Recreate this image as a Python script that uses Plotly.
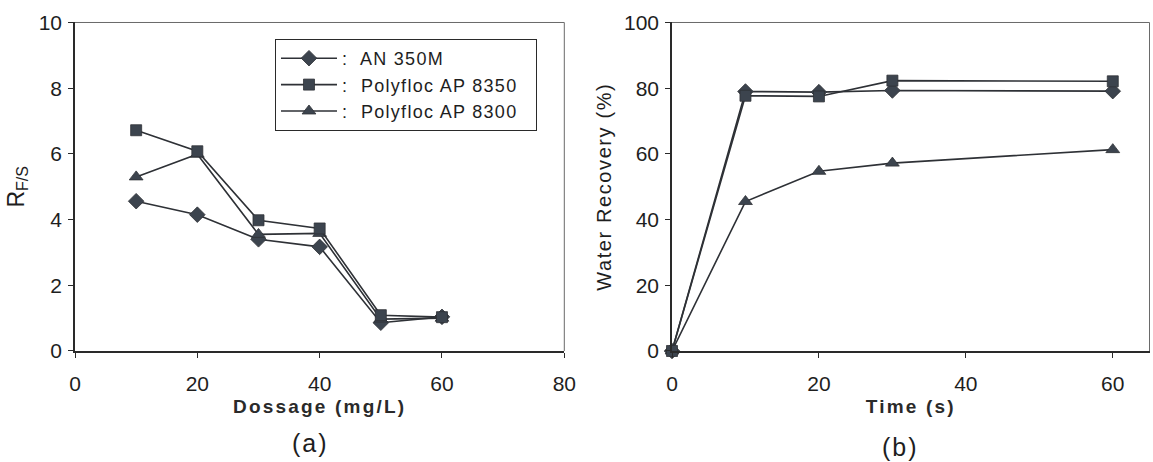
import plotly.graph_objects as go

# Panel (a): R_F/S against flocculant dosage
dosage = [10, 20, 30, 40, 50, 60]
rfs_an350m = [4.56, 4.15, 3.40, 3.17, 0.86, 1.04]
rfs_ap8350 = [6.72, 6.08, 3.98, 3.73, 1.09, 1.03]
rfs_ap8300 = [5.30, 5.99, 3.55, 3.58, 0.97, 1.00]

# Panel (b): water recovery against time
time_s = [0, 10, 20, 30, 60]
wr_an350m = [0, 79.0, 78.8, 79.3, 79.1]
wr_ap8350 = [0, 77.7, 77.5, 82.3, 82.1]
wr_ap8300 = [0, 45.5, 54.7, 57.2, 61.3]

series_names = ["AN 350M", "Polyfloc AP 8350", "Polyfloc AP 8300"]

LINE = "#2e3136"
MARK = "#3c444e"
TXT = "#1e1e1e"
FONT = "Liberation Sans, Arial, sans-serif"


def spaced(text, px):
    """Wrap text in a span with extra letter spacing."""
    return f'<span style="letter-spacing:{px}px">{text}</span>'


styles = {
    "AN 350M": dict(symbol="diamond", size=12, rank=1),
    "Polyfloc AP 8350": dict(symbol="square", size=11, rank=2),
    "Polyfloc AP 8300": dict(symbol="triangle-up", size=12, rank=3),
}

fig = go.Figure()

left = {"AN 350M": rfs_an350m, "Polyfloc AP 8300": rfs_ap8300, "Polyfloc AP 8350": rfs_ap8350}
right = {"AN 350M": wr_an350m, "Polyfloc AP 8300": wr_ap8300, "Polyfloc AP 8350": wr_ap8350}

for name, ys in left.items():
    st = styles[name]
    fig.add_trace(go.Scatter(
        x=dosage, y=ys, mode="lines+markers",
        name=spaced(":  " + name + "  ", 1.3),
        legendrank=st["rank"], cliponaxis=False,
        line=dict(color=LINE, width=1.6),
        marker=dict(symbol=st["symbol"], size=st["size"], color=MARK,
                    line=dict(color=LINE, width=0.8)),
        xaxis="x", yaxis="y",
    ))

for name, ys in right.items():
    st = styles[name]
    fig.add_trace(go.Scatter(
        x=time_s, y=ys, mode="lines+markers", name=name, showlegend=False,
        cliponaxis=False,
        line=dict(color=LINE, width=1.6),
        marker=dict(symbol=st["symbol"], size=st["size"], color=MARK,
                    line=dict(color=LINE, width=0.8)),
        xaxis="x2", yaxis="y2",
    ))

axis_common = dict(
    showline=True, linecolor="#2a2a2a", linewidth=1.5,
    ticks="outside", ticklen=5, tickwidth=1.2, tickcolor="#2a2a2a",
    showgrid=False, zeroline=False, automargin=False,
    tickfont=dict(family=FONT, size=21, color=TXT),
)

ydom = [0.24026, 0.95130]

fig.update_layout(
    width=1153, height=462,
    margin=dict(l=0, r=0, t=0, b=0, pad=0, autoexpand=False),
    paper_bgcolor="white", plot_bgcolor="white",
    font=dict(family=FONT, color=TXT),
    xaxis=dict(axis_common, domain=[0.06505, 0.48942], range=[0, 80], dtick=20,
               ticklabelstandoff=8,
               title=dict(text=spaced("Dossage (mg/L)", 2.2), standoff=6,
                          font=dict(family=FONT, size=19, color="#2a2a2a", weight="bold"))),
    yaxis=dict(axis_common, domain=ydom, range=[0, 10], dtick=2, anchor="x",
               ticklabelstandoff=2,
               title=dict(text="R<sub>F/S</sub>", standoff=8,
                          font=dict(family=FONT, size=23, color=TXT))),
    xaxis2=dict(axis_common, domain=[0.58283, 0.99697], range=[0, 65],
                tickvals=[0, 20, 40, 60], anchor="y2", ticklabelstandoff=8,
                title=dict(text=spaced("Time (s)", 2.2), standoff=6,
                           font=dict(family=FONT, size=19, color="#2a2a2a", weight="bold"))),
    yaxis2=dict(axis_common, domain=ydom, range=[0, 100], dtick=20, anchor="x2",
                ticklabelstandoff=2,
                title=dict(text=spaced("Water Recovery (%)", 1.6), standoff=7,
                           font=dict(family=FONT, size=20, color=TXT))),
    legend=dict(
        x=0.2385, y=0.9156, xanchor="left", yanchor="top",
        bgcolor="white", bordercolor="#2a2a2a", borderwidth=1,
        font=dict(family=FONT, size=18, color=TXT),
        tracegroupgap=0, itemwidth=56,
    ),
)

# Lighter top and right frame edges on both panels
for xr, yr in (("x domain", "y domain"), ("x2 domain", "y2 domain")):
    fig.add_shape(type="line", xref=xr, yref=yr, x0=0, x1=1, y0=1, y1=1,
                  line=dict(color="#6a6a6a", width=1))
    fig.add_shape(type="line", xref=xr, yref=yr, x0=1, x1=1, y0=0, y1=1,
                  line=dict(color="#6a6a6a", width=1))

# Panel labels
fig.add_annotation(text=spaced("(a)", 2), x=310 / 1153, y=(462 - 443) / 462,
                   xref="paper", yref="paper", xanchor="center", yanchor="middle",
                   showarrow=False, font=dict(family=FONT, size=25, color=TXT))
fig.add_annotation(text=spaced("(b)", 2), x=900 / 1153, y=(462 - 447) / 462,
                   xref="paper", yref="paper", xanchor="center", yanchor="middle",
                   showarrow=False, font=dict(family=FONT, size=25, color=TXT))

fig.write_html("out.html")
